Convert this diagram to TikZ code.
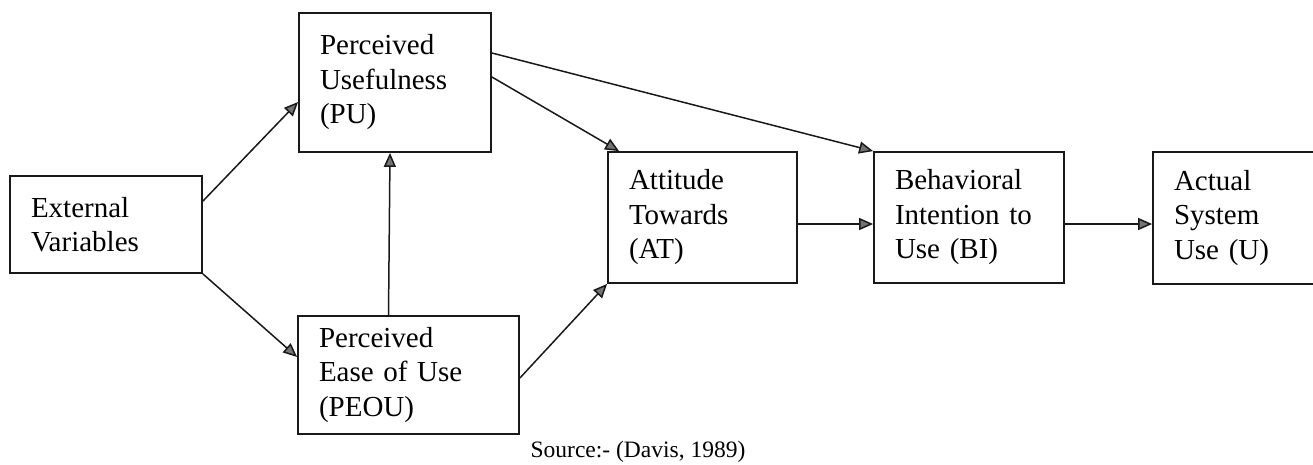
\documentclass[tikz,border=0pt]{standalone}
\usepackage{fontspec}
\setmainfont{Liberation Serif}
\usetikzlibrary{arrows.meta}
\newcommand\boxfont{\fontsize{29}{34.5}\selectfont}
\newcommand\srcfont{\fontsize{23.5}{28}\selectfont}
\begin{document}
\begin{tikzpicture}[x=1pt,y=-1pt,
  tambox/.style={draw=black!90, line width=1.8pt, align=left, inner xsep=21pt, inner ysep=0pt, font=\boxfont},
  link/.style={draw=black!90, line width=1.5pt, -{Triangle[length=14pt,width=12pt,fill=black!55]}}]
\useasboundingbox (0,0) rectangle (1313,464);
\node[tambox, text width=150pt, minimum height=97pt] (ev) at (106,224.5) {External\\Variables};
\node[tambox, text width=150pt, minimum height=139pt] (pu) at (395,82.5) {Perceived\\Usefulness\\(PU)};
\node[tambox, text width=179pt, minimum height=118pt] (peou) at (408.5,375) {Perceived\\Ease of Use\\(PEOU)};
\node[tambox, text width=147pt, minimum height=131pt] (at) at (702.5,217.5) {Attitude\\Towards\\(AT)};
\node[tambox, text width=148pt, minimum height=131pt] (bi) at (969,217.5) {Behavioral\\Intention to\\Use (BI)};
\node[tambox, text width=125pt, minimum height=132pt] (au) at (1236.5,218) {Actual\\System\\Use (U)};
\node[font=\srcfont, anchor=base, inner sep=0pt] (src) at (638,457) {Source:- (Davis, 1989)};
\draw[link] ([yshift=-26pt]ev.north east) -- ([yshift=-19.5pt]pu.west);
\draw[link] (ev.south east) -- ([yshift=18pt]peou.west);
\draw[link] ([xshift=-20pt]peou.north) -- ([xshift=-5pt]pu.south);
\draw[link] ([yshift=5.5pt]pu.east) -- ([xshift=12pt]at.north west);
\draw[link] ([yshift=29.5pt]pu.east) -- (bi.north west);
\draw[link] ([yshift=-3pt]peou.east) -- (at.south west);
\draw[link] ([yshift=-6.5pt]at.east) -- ([yshift=-6.5pt]bi.west);
\draw[link] ([yshift=-6.5pt]bi.east) -- ([yshift=-6pt]au.west);
\end{tikzpicture}
\end{document}
